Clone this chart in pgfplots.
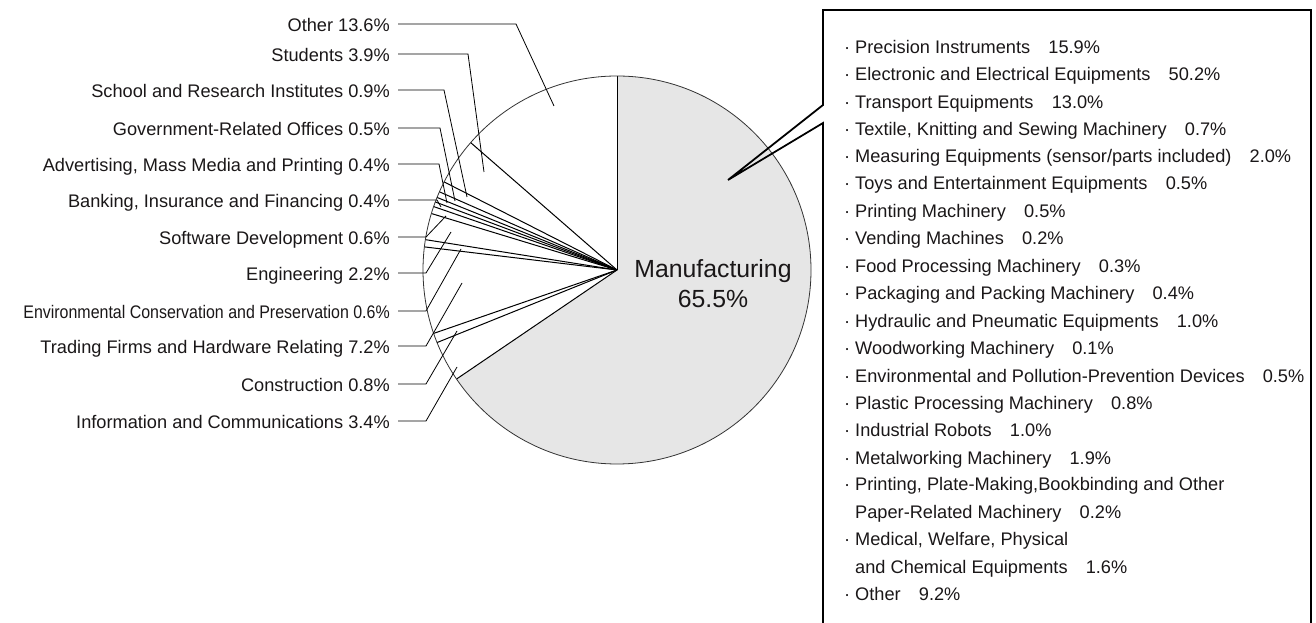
\documentclass[border=0pt]{standalone}
\usepackage{pgfplots}
\usepackage{pgfplotstable}
\pgfplotsset{compat=1.18}
\usepackage{fontspec}
\setmainfont{Liberation Sans}
\usepackage{graphicx}
\definecolor{txt}{HTML}{1A1718}
\definecolor{mfg}{HTML}{E6E6E6}
\newcommand\lbl{\fontsize{18.2}{22}\selectfont}
\newcommand\mfgfont{\fontsize{24.8}{29}\selectfont}

% slice values (percent), label row y, kink x, leader end x/y (pixel units), horizontal scale
\pgfplotstableread[col sep=semicolon]{
name;v;ly;kx;ex;ey;sx
Manufacturing;65.5;0;0;0;0;1
Information and Communications;3.4;421;426;457;367;1
Construction;0.8;384;426;457;331;1
Trading Firms and Hardware Relating;7.2;346;426;462;283;1
Environmental Conservation and Preservation;0.6;311;426;461;249;0.877
Engineering;2.2;273;426;451;232;1
Software Development;0.6;237;426;446;216;1
Banking, Insurance and Financing;0.4;200;437;441;207;1
Advertising, Mass Media and Printing;0.4;164;439;447;203;1
Government-Related Offices;0.5;128;440;455;201;1
School and Research Institutes;0.9;90;444;467;197;1
Students;3.9;54;468;484;172;1
Other;13.6;24;516;554;106;1
}\piedata

\pgfplotstablegetrowsof{\piedata}
\pgfmathtruncatemacro{\lastrow}{\pgfplotsretval-1}

\begin{document}
\begin{tikzpicture}
\begin{axis}[hide axis, scale only axis, width=1316pt, height=623pt,
  xmin=0, xmax=1316, ymin=-623, ymax=0, clip=false]
\coordinate (SW) at (axis cs:0,-623);
\coordinate (NE) at (axis cs:1316,0);
% wedges
\def\cum{0}
\pgfplotsforeachungrouped \i in {0,...,\lastrow}{%
  \pgfplotstablegetelem{\i}{v}\of\piedata \let\val\pgfplotsretval
  \pgfmathsetmacro{\sa}{90-3.6*\cum}%
  \pgfmathsetmacro{\ea}{90-3.6*(\cum+\val)}%
  \pgfmathsetmacro{\cum}{\cum+\val}%
  \ifnum\i=0 \def\fc{mfg}\else\def\fc{white}\fi
  \edef\temp{\noexpand\fill[\fc] (axis cs:617,-270) -- ([shift={(\sa:194pt)}]axis cs:617,-270) arc[start angle=\sa, end angle=\ea, radius=194pt] -- cycle;}%
  \temp
}
% radial edges
\def\cum{0}
\pgfplotsforeachungrouped \i in {0,...,\lastrow}{%
  \pgfplotstablegetelem{\i}{v}\of\piedata \let\val\pgfplotsretval
  \pgfmathsetmacro{\sa}{90-3.6*\cum}%
  \pgfmathsetmacro{\cum}{\cum+\val}%
  \edef\temp{\noexpand\draw[black, line width=1pt] (axis cs:617,-270) -- ([shift={(\sa:194pt)}]axis cs:617,-270);}%
  \temp
}
\draw[black!80, line width=0.8pt] (axis cs:617,-270) circle[radius=194pt];
% labels and leader lines
\pgfplotsforeachungrouped \i in {1,...,\lastrow}{%
  \pgfplotstablegetelem{\i}{v}\of\piedata \let\val\pgfplotsretval
  \pgfplotstablegetelem{\i}{name}\of\piedata \let\nm\pgfplotsretval
  \pgfplotstablegetelem{\i}{ly}\of\piedata \let\ly\pgfplotsretval
  \pgfplotstablegetelem{\i}{kx}\of\piedata \let\kx\pgfplotsretval
  \pgfplotstablegetelem{\i}{ex}\of\piedata \let\ex\pgfplotsretval
  \pgfplotstablegetelem{\i}{ey}\of\piedata \let\ey\pgfplotsretval
  \pgfplotstablegetelem{\i}{sx}\of\piedata \let\sx\pgfplotsretval
  \pgfmathsetmacro{\by}{-\ly-8}%
  \edef\temp{\noexpand\node[anchor=base east, inner sep=0pt, text=txt, font=\noexpand\lbl] at (axis cs:390,\by) {\noexpand\scalebox{\sx}[1]{\nm\space\val\noexpand\%}};
    \noexpand\draw[black, line width=0.8pt] (axis cs:398,-\ly) -- (axis cs:\kx,-\ly) -- (axis cs:\ex,-\ey);}%
  \temp
}
% Manufacturing label
\node[anchor=base, inner sep=0pt, text=txt, font=\mfgfont] at (axis cs:713,-278) {Manufacturing};
\node[anchor=base, inner sep=0pt, text=txt, font=\mfgfont] at (axis cs:713,-308) {65.5\%};
% callout box
\draw[black, line width=1.8pt] (axis cs:823,-630) -- (axis cs:823,-123) -- (axis cs:728,-180) -- (axis cs:823,-105) -- (axis cs:823,-10) -- (axis cs:1311,-10) -- (axis cs:1311,-630);
\begin{scope}[every node/.style={anchor=base west, inner sep=0pt, text=txt, font=\lbl}]
\node at (axis cs:844,-54)  {\makebox[11pt][l]{·}Precision Instruments\quad 15.9\%};
\node at (axis cs:844,-81)  {\makebox[11pt][l]{·}Electronic and Electrical Equipments\quad 50.2\%};
\node at (axis cs:844,-109) {\makebox[11pt][l]{·}Transport Equipments\quad 13.0\%};
\node at (axis cs:844,-136) {\makebox[11pt][l]{·}Textile, Knitting and Sewing Machinery\quad 0.7\%};
\node at (axis cs:844,-163) {\makebox[11pt][l]{·}Measuring Equipments (sensor/parts included)\quad 2.0\%};
\node at (axis cs:844,-190) {\makebox[11pt][l]{·}Toys and Entertainment Equipments\quad 0.5\%};
\node at (axis cs:844,-218) {\makebox[11pt][l]{·}Printing Machinery\quad 0.5\%};
\node at (axis cs:844,-245) {\makebox[11pt][l]{·}Vending Machines\quad 0.2\%};
\node at (axis cs:844,-273) {\makebox[11pt][l]{·}Food Processing Machinery\quad 0.3\%};
\node at (axis cs:844,-300) {\makebox[11pt][l]{·}Packaging and Packing Machinery\quad 0.4\%};
\node at (axis cs:844,-328) {\makebox[11pt][l]{·}Hydraulic and Pneumatic Equipments\quad 1.0\%};
\node at (axis cs:844,-355) {\makebox[11pt][l]{·}Woodworking Machinery\quad 0.1\%};
\node at (axis cs:844,-383) {\makebox[11pt][l]{·}Environmental and Pollution-Prevention Devices\quad 0.5\%};
\node at (axis cs:844,-410) {\makebox[11pt][l]{·}Plastic Processing Machinery\quad 0.8\%};
\node at (axis cs:844,-437) {\makebox[11pt][l]{·}Industrial Robots\quad 1.0\%};
\node at (axis cs:844,-465) {\makebox[11pt][l]{·}Metalworking Machinery\quad 1.9\%};
\node at (axis cs:844,-491) {\makebox[11pt][l]{·}Printing, Plate-Making,Bookbinding and Other};
\node at (axis cs:844,-519) {\makebox[11pt][l]{}Paper-Related Machinery\quad 0.2\%};
\node at (axis cs:844,-546) {\makebox[11pt][l]{·}Medical, Welfare, Physical};
\node at (axis cs:844,-574) {\makebox[11pt][l]{}and Chemical Equipments\quad 1.6\%};
\node at (axis cs:844,-601) {\makebox[11pt][l]{·}Other\quad 9.2\%};
\end{scope}
\end{axis}
\pgfresetboundingbox
\path[use as bounding box] (SW) rectangle (NE);
\end{tikzpicture}
\end{document}
